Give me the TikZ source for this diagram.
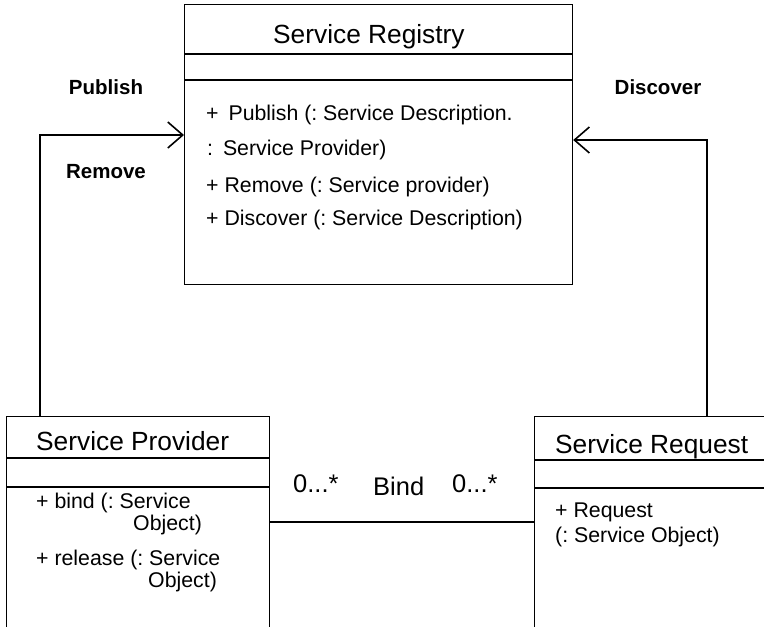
\documentclass[tikz,border=0pt]{standalone}
\usepackage{fontspec}
\setmainfont{Liberation Sans}
\usetikzlibrary{arrows.meta}
\frenchspacing
\begin{document}
\begin{tikzpicture}[x=1pt,y=-1pt,
  box/.style={draw, line width=1.2pt, rectangle, inner sep=0pt, anchor=north west},
  sep/.style={line width=1.2pt},
  conn/.style={line width=1.2pt, -{Straight Barb[length=15pt,width=26pt,line width=1.6pt]}},
  title/.style={font=\fontsize{26.3}{30}\selectfont, anchor=base west, inner sep=0pt},
  txt/.style={font=\fontsize{21.3}{25}\selectfont, anchor=base west, inner sep=0pt},
  mult/.style={font=\fontsize{25.5}{29}\selectfont, anchor=base west, inner sep=0pt},
  lbl/.style={font=\bfseries\fontsize{20.5}{24}\selectfont, anchor=base, inner sep=0pt}]
\useasboundingbox (0,0) rectangle (764,627);
\clip (0,0) rectangle (764,627);
\fill[white] (0,0) rectangle (764,627);

% class boxes
\node[box, minimum width=388pt, minimum height=280pt] (reg) at (184,4) {};
\node[box, minimum width=263pt, minimum height=260pt] (prov) at (6,416) {};
\node[box, minimum width=260pt, minimum height=260pt] (req) at (534,416) {};

% compartment separators
\draw[sep] ([yshift=-50pt]reg.north west) -- ([yshift=-50pt]reg.north east);
\draw[sep] ([yshift=-76pt]reg.north west) -- ([yshift=-76pt]reg.north east);
\draw[sep] ([yshift=-42pt]prov.north west) -- ([yshift=-42pt]prov.north east);
\draw[sep] ([yshift=-71pt]prov.north west) -- ([yshift=-71pt]prov.north east);
\draw[sep] ([yshift=-44pt]req.north west) -- ([yshift=-44pt]req.north east);
\draw[sep] ([yshift=-72pt]req.north west) -- ([yshift=-72pt]req.north east);

% Service Registry
\node[title] (regt) at (273,43) {Service Registry};
\node[txt] (r1) at (206,120) {+\hspace{4pt} Publish (: Service Description.};
\node[txt] (r2) at (207,155) {:\hspace{4pt} Service Provider)};
\node[txt] (r3) at (206,192) {+ Remove (: Service provider)};
\node[txt] (r4) at (206,225) {+ Discover (: Service Description)};

% Service Provider
\node[title] (provt) at (36,450) {Service Provider};
\node[txt] (p1) at (36,508) {+ bind (: Service};
\node[txt] (p2) at (133,530) {Object)};
\node[txt] (p3) at (36,565) {+ release (: Service};
\node[txt] (p4) at (148,587) {Object)};

% Service Request
\node[title] (reqt) at (555,453) {Service Request};
\node[txt] (q1) at (555,517) {+ Request};
\node[txt] (q2) at (555,542) {(: Service Object)};

% connectors to the registry
\coordinate (pubin) at ([yshift=-131pt]reg.north west);
\coordinate (discin) at ([yshift=-136pt]reg.north east);
\draw[conn] ([xshift=34pt]prov.north west) |- (pubin);
\draw[conn] ([xshift=173pt]req.north west) |- (discin);

\node[lbl] (pub) at (106,94) {Publish};
\node[lbl] (rem) at (106,178) {Remove};
\node[lbl] (disc) at (658,94) {Discover};

% bind association
\draw[sep] ([yshift=-106pt]prov.north east) -- ([yshift=-106pt]req.north west);
\node[mult] (m1) at (293,492) {0...*};
\node[mult] (bind) at (373,495) {Bind};
\node[mult] (m2) at (452,492) {0...*};
\end{tikzpicture}
\end{document}
